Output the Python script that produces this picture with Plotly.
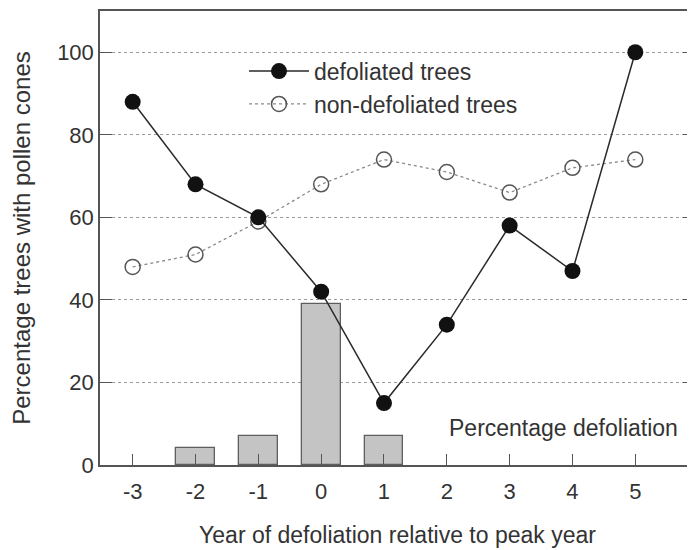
import plotly.graph_objects as go

# Data
years = [-3, -2, -1, 0, 1, 2, 3, 4, 5]
year_labels = ["-3", "-2", "-1", "0", "1", "2", "3", "4", "5"]
defoliated = [88, 68, 60, 42, 15, 34, 58, 47, 100]
non_defoliated = [48, 51, 59, 68, 74, 71, 66, 72, 74]
pct_defoliation = [None, 4, 7, 39, 7, None, None, None, None]

font_family = "Liberation Sans, Arial, sans-serif"
txt = "#333333"

fig = go.Figure()

# Percentage defoliation bars
fig.add_trace(go.Bar(
    x=years,
    y=pct_defoliation,
    width=0.62,
    marker=dict(color="#c4c4c4", line=dict(color="#5e5e5e", width=1.3)),
    showlegend=False,
    hoverinfo="skip",
))

# Non-defoliated trees (open circles, dotted line)
fig.add_trace(go.Scatter(
    x=years,
    y=non_defoliated,
    mode="lines+markers",
    name="non-defoliated trees",
    line=dict(color="#8a8a8a", width=1.3, dash="dot"),
    marker=dict(symbol="circle-open", size=15, color="#555555", line=dict(width=1.5)),
))

# Defoliated trees (filled circles, solid line)
fig.add_trace(go.Scatter(
    x=years,
    y=defoliated,
    mode="lines+markers",
    name="defoliated trees",
    line=dict(color="#2a2a2a", width=1.5),
    marker=dict(symbol="circle", size=16, color="#111111"),
))

fig.add_annotation(
    x=3.85, y=9, text="Percentage defoliation", showarrow=False,
    font=dict(size=23, color=txt, family=font_family),
)

fig.update_layout(
    width=695,
    height=550,
    margin=dict(l=92, r=8, t=1, b=93),
    paper_bgcolor="white",
    plot_bgcolor="white",
    font=dict(family=font_family, size=22, color=txt),
    bargap=0,
    legend=dict(
        x=0.242, y=0.915, xanchor="left", yanchor="top",
        traceorder="reversed",
        bgcolor="rgba(0,0,0,0)",
        font=dict(size=23, color=txt),
        itemwidth=60,
        tracegroupgap=0,
    ),
)

fig.update_xaxes(
    range=[-3.52, 5.95],
    tickmode="array",
    tickvals=years,
    ticktext=year_labels,
    tickfont=dict(size=22),
    ticklabelstandoff=6,
    ticks="inside",
    ticklen=11,
    tickcolor="#555555",
    showline=True,
    linecolor="#555555",
    linewidth=1.5,
    mirror=True,
    showgrid=False,
    zeroline=False,
    title=dict(text="Year of defoliation relative to peak year", standoff=24,
               font=dict(size=23)),
)

fig.update_yaxes(
    range=[0, 110],
    tickvals=[0, 20, 40, 60, 80, 100],
    tickfont=dict(size=22),
    ticks="inside",
    ticklen=12,
    tickcolor="#555555",
    showline=True,
    linecolor="#555555",
    linewidth=1.5,
    mirror="ticks",
    showgrid=True,
    gridcolor="#9a9a9a",
    griddash="dot",
    gridwidth=1,
    zeroline=False,
    title=dict(text="Percentage trees with pollen cones", standoff=22,
               font=dict(size=24)),
)

fig.write_html("out.html")
